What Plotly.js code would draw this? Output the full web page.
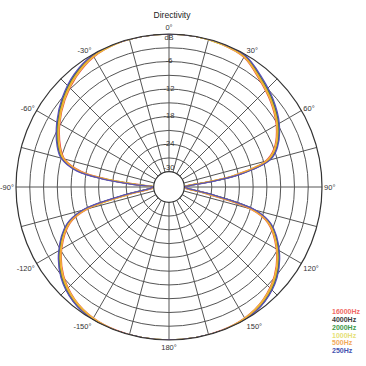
<!DOCTYPE html>
<html>
<head>
<meta charset="utf-8">
<script src="https://cdn.plot.ly/plotly-3.0.1.min.js"></script>
<style>
  html, body { margin: 0; padding: 0; background: #fff; }
  #chart { width: 366px; height: 366px; }
</style>
</head>
<body>
<div id="chart"></div>
<script>
// Measurement angles in degrees (0 = on-axis, clockwise)
const THETA = [0,10,20,30,40,50,60,70,75,80,83,86,90,
  94,97,100,105,110,120,130,140,150,160,170,180,
  190,200,210,220,230,240,250,255,260,263,266,270,
  274,277,280,285,290,300,310,320,330,340,350,360];

// Relative level in dB per frequency band
const R_16000 = [0,0,-0.2,-0.7,-2.75,-4.45,-6.35,-9.0,-11.6,-19.2,-26.2,-29.5,-30,
  -29.8,-28.8,-25.6,-15.2,-10.4,-6.35,-3.35,-1.4,-0.4,-0.1,0,0,
  0,-0.1,-0.4,-1.4,-3.35,-6.35,-10.4,-15.1,-25.5,-28.8,-29.8,-30,
  -27.2,-20.6,-14,-9.8,-8.2,-5.85,-3.75,-1.95,-0.6,-0.1,0,0];
const R_4000 = [0,0,-0.1,-0.3,-2.2,-3.9,-5.8,-8.4,-10.8,-18,-25,-29,-30,
  -29.4,-27.9,-24,-14,-9.8,-5.8,-2.8,-0.9,-0.1,0,0,0,
  0,0,-0.1,-0.9,-2.8,-5.8,-9.8,-14,-24,-28,-29.4,-30,
  -26,-19,-13,-9.2,-7.6,-5.3,-3.2,-1.4,-0.2,0,0,0];
const R_2000 = [0,0,-0.1,-0.4,-2.3,-4.0,-5.9,-8.5,-10.9,-18.2,-25.2,-29.1,-30,
  -29.5,-28.1,-24.3,-14.2,-9.9,-5.9,-2.9,-1.0,-0.1,0,0,0,
  0,0,-0.1,-1.0,-2.9,-5.9,-9.9,-14.2,-24.3,-28.2,-29.5,-30,
  -26.2,-19.2,-13.2,-9.3,-7.7,-5.4,-3.3,-1.5,-0.3,0,0,0];
const R_1000 = [0,0,-0.2,-0.6,-2.6,-4.3,-6.2,-8.8,-11.3,-18.8,-25.8,-29.4,-30,
  -29.7,-28.5,-25,-14.8,-10.2,-6.2,-3.2,-1.3,-0.3,0,0,0,
  0,0,-0.3,-1.3,-3.2,-6.2,-10.2,-14.8,-25,-28.6,-29.7,-30,
  -26.8,-19.9,-13.6,-9.6,-8.0,-5.7,-3.6,-1.8,-0.5,-0.1,0,0];
const R_500 = [0,0,-0.1,-0.5,-2.45,-4.15,-6.05,-8.65,-11.1,-18.5,-25.5,-29.3,-30,
  -29.6,-28.3,-24.6,-14.5,-10.1,-6.05,-3.05,-1.15,-0.2,0,0,0,
  0,0,-0.2,-1.15,-3.05,-6.05,-10.1,-14.5,-24.6,-28.4,-29.6,-30,
  -26.5,-19.5,-13.4,-9.45,-7.85,-5.55,-3.45,-1.65,-0.4,0,0,0];
const R_250 = [0,0,0,-0.2,-2.0,-3.7,-5.6,-8.2,-10.5,-17.6,-24.6,-28.8,-30,
  -29.3,-27.7,-23.7,-13.8,-9.6,-5.6,-2.6,-0.8,0,0,0,0,
  0,0,0,-0.8,-2.6,-5.6,-9.6,-13.8,-23.7,-27.8,-29.3,-30,
  -25.7,-18.6,-12.8,-9.0,-7.4,-5.1,-3.0,-1.2,-0.1,0,0,0];

const SERIES_NAMES = ['16000Hz','4000Hz','2000Hz','1000Hz','500Hz','250Hz'];
const SERIES_VALUES = [R_16000, R_4000, R_2000, R_1000, R_500, R_250];
const SERIES_COLORS = ['#ef5048','#3a3a3a','#34993f','#e4dd3c','#f3a232','#5a50b8'];
const LABEL_COLORS  = ['#f06a66','#3a3a3a','#3e9a4a','#e6df78','#f2aa5c','#4552b0'];

// Axis tick labels
const ANGLE_TICKS = [0,15,30,45,60,75,90,105,120,135,150,165,180,195,210,225,240,255,270,285,300,315,330,345];
const ANGLE_TEXT  = ['0°','','30°','','60°','','90°','','120°','','150°','','180°','','-150°','','-120°','','-90°','','-60°','','-30°',''];
const RADIAL_TICKS = [-30,-27,-24,-21,-18,-15,-12,-9,-6,-3,0];
const RADIAL_LABEL_VALUES = [0,-6,-12,-18,-24,-30];
const RADIAL_LABEL_TEXT = ['dB','-6','-12','-18','-24','-30'];

const traces = [];
SERIES_VALUES.forEach((vals, i) => {
  traces.push({
    type: 'scatterpolar',
    mode: 'lines',
    name: SERIES_NAMES[i],
    theta: THETA,
    r: vals,
    line: { color: SERIES_COLORS[i], width: 1.3, shape: 'spline', smoothing: 1 },
    hoverinfo: 'skip',
    showlegend: false
  });
});

// dB scale labels printed along the on-axis spoke
traces.push({
  type: 'scatterpolar',
  mode: 'text',
  theta: RADIAL_LABEL_VALUES.map(() => 0),
  r: RADIAL_LABEL_VALUES,
  text: RADIAL_LABEL_TEXT,
  textposition: RADIAL_LABEL_TEXT.map((t, i) =>
    i === 0 ? 'bottom center' : (i === RADIAL_LABEL_TEXT.length - 1 ? 'top center' : 'middle center')),
  textfont: { family: 'Liberation Sans, Arial, sans-serif', size: 7.5, color: '#333' },
  cliponaxis: false,
  hoverinfo: 'skip',
  showlegend: false
});

// Colour key in the lower right corner
const annotations = SERIES_NAMES.map((name, i) => ({
  xref: 'paper', yref: 'paper',
  x: 0.902, y: 0.148 - i * 0.0212,
  xanchor: 'left', yanchor: 'middle',
  text: '<b>' + name + '</b>',
  showarrow: false,
  font: { family: 'Liberation Sans, Arial, sans-serif', size: 7, color: LABEL_COLORS[i] }
}));

const layout = {
  width: 366, height: 366,
  margin: { l: 0, r: 0, t: 0, b: 0 },
  paper_bgcolor: '#fff',
  showlegend: false,
  title: {
    text: 'Directivity',
    x: 0.47, xanchor: 'center',
    y: 0.958, yanchor: 'middle',
    font: { family: 'Liberation Sans, Arial, sans-serif', size: 8.5, color: '#222' }
  },
  polar: {
    domain: { x: [0.0437, 0.8798], y: [0.0628, 0.9153] },
    bgcolor: '#fff',
    hole: 0.1,
    radialaxis: {
      range: [-30, 0],
      tickvals: RADIAL_TICKS,
      showticklabels: false,
      ticks: '',
      showline: false,
      angle: 90,
      gridcolor: '#555',
      gridwidth: 1
    },
    angularaxis: {
      rotation: 90,
      direction: 'clockwise',
      tickvals: ANGLE_TICKS,
      ticktext: ANGLE_TEXT,
      ticks: '',
      showline: true,
      linecolor: '#333',
      linewidth: 1.2,
      gridcolor: '#555',
      gridwidth: 1,
      tickfont: { family: 'Liberation Sans, Arial, sans-serif', size: 7.5, color: '#333' }
    }
  },
  annotations: annotations
};

Plotly.newPlot('chart', traces, layout, { displayModeBar: false, staticPlot: true });
</script>
</body>
</html>
